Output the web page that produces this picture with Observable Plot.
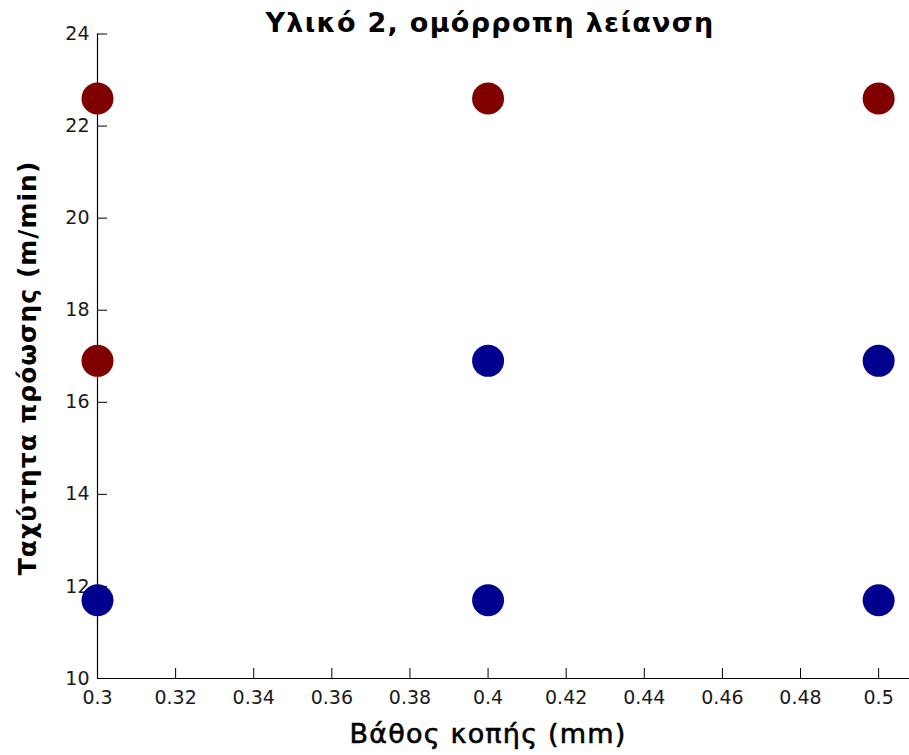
<!DOCTYPE html>
<html>
<head>
<meta charset="utf-8">
<script src="https://cdn.jsdelivr.net/npm/d3@7"></script>
<script src="https://cdn.jsdelivr.net/npm/@observablehq/plot@0.6"></script>
<style>
  html, body { margin: 0; padding: 0; background: #fff; }
  #chart { width: 909px; height: 755px; }
</style>
</head>
<body>
<div id="chart"></div>
<script>
// Data
const depth = [0.3, 0.4, 0.5, 0.3, 0.4, 0.5, 0.3, 0.4, 0.5];
const speed = [11.7, 11.7, 11.7, 16.9, 16.9, 16.9, 22.6, 22.6, 22.6];
const group = ["low", "low", "low", "high", "low", "low", "high", "high", "high"];
const xTicks = [0.3, 0.32, 0.34, 0.36, 0.38, 0.4, 0.42, 0.44, 0.46, 0.48, 0.5];
const yTicks = [10, 12, 14, 16, 18, 20, 22, 24];
const titleText = "Υλικό 2, ομόρροπη λείανση";
const xLabel = "Βάθος κοπής (mm)";
const yLabel = "Ταχύτητα πρόωσης (m/min)";

const points = depth.map((d, i) => ({depth: d, speed: speed[i], group: group[i]}));

const tickFont = "DejaVu Sans, sans-serif";
const labelFont = "DejaVu Sans, sans-serif";

const chart = Plot.plot({
  width: 909,
  height: 755,
  marginLeft: 97,
  marginRight: 0,
  marginTop: 33.5,
  marginBottom: 77,
  style: {fontFamily: tickFont, fontSize: "19px", color: "#000", background: "#fff", overflow: "visible"},
  x: {domain: [0.3, 0.5079], ticks: xTicks},
  y: {domain: [10, 24], ticks: yTicks},
  color: {domain: ["low", "high"], range: ["#00008F", "#800000"]},
  marks: [
    Plot.axisX(xTicks, {tickSize: -10, tickPadding: 22, label: null, tickFormat: d => String(+d.toFixed(2)), stroke: "#000", fill: "#1a1a1a", fontSize: 19}),
    Plot.axisY(yTicks, {tickSize: -10, tickPadding: 18, label: null, tickFormat: d => String(d), stroke: "#000", fill: "#1a1a1a", fontSize: 19}),
    Plot.ruleX([0.3], {stroke: "#000", strokeWidth: 1.2}),
    Plot.ruleY([10], {stroke: "#000", strokeWidth: 1.2}),
    Plot.dot(points, {x: "depth", y: "speed", fill: "group", r: 16, stroke: null})
  ]
});
document.getElementById("chart").appendChild(chart);

// Title and axis labels
const svg = d3.select(chart);
svg.append("text")
  .attr("x", 490).attr("y", 32)
  .attr("text-anchor", "middle")
  .style("font-family", labelFont).style("font-weight", "bold").style("font-size", "27px")
  .style("letter-spacing", "1.3px")
  .attr("fill", "#000")
  .text(titleText);
svg.append("text")
  .attr("x", 488).attr("y", 743)
  .attr("text-anchor", "middle")
  .style("font-family", labelFont).style("font-weight", "normal").style("font-size", "27px")
  .style("letter-spacing", "1.2px")
  .style("stroke", "#000").style("stroke-width", "0.6px")
  .attr("fill", "#000")
  .text(xLabel);
svg.append("text")
  .attr("transform", "translate(36,368) rotate(-90)")
  .attr("text-anchor", "middle")
  .style("font-family", labelFont).style("font-weight", "bold").style("font-size", "25px")
  .style("letter-spacing", "1px")
  .attr("fill", "#000")
  .text(yLabel);
</script>
</body>
</html>
